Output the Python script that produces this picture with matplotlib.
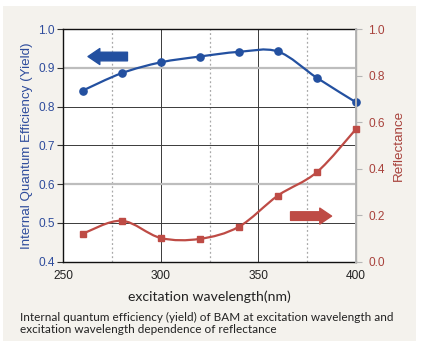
import numpy as np
import matplotlib
matplotlib.use("Agg")
import matplotlib.pyplot as plt
from matplotlib.path import Path
from matplotlib.patches import PathPatch, Rectangle

# -----------------------------
# data
# -----------------------------
wavelength = [260, 280, 300, 320, 340, 360, 380, 400]
yield_vals = [0.841, 0.886, 0.914, 0.929, 0.941, 0.942, 0.874, 0.811]
reflectance = [0.120, 0.176, 0.102, 0.098, 0.150, 0.284, 0.385, 0.570]

left_ticks = [0.4, 0.5, 0.6, 0.7, 0.8, 0.9, 1.0]
right_ticks = [0.0, 0.2, 0.4, 0.6, 0.8, 1.0]
x_ticks = [250, 300, 350, 400]
x_minor = [275, 325, 375]

BLUE = "#2350A0"
RED = "#BE4B45"
LBL_BLUE = "#2E4C9C"
LBL_RED = "#A8423C"
BG = "#F4F2ED"


def smooth_path(xs, ys):
    # catmull-rom through the points, handed to matplotlib as cubic beziers
    pts = np.column_stack([xs, ys]).astype(float)
    ext = np.vstack([pts[0], pts, pts[-1]])
    verts = [pts[0]]
    codes = [Path.MOVETO]
    for i in range(1, len(ext) - 2):
        p0, p1, p2, p3 = ext[i - 1], ext[i], ext[i + 1], ext[i + 2]
        verts += [p1 + (p2 - p0) / 6.0, p2 - (p3 - p1) / 6.0, p2]
        codes += [Path.CURVE4] * 3
    return Path(verts, codes)


fig = plt.figure(figsize=(4.22, 3.49), dpi=100)
fig.patch.set_facecolor("white")
fig.patches.append(Rectangle((3 / 422, 8 / 349), 413 / 422, 335 / 349,
                             transform=fig.transFigure, facecolor=BG,
                             edgecolor="none", zorder=-10))

ax = fig.add_axes([63 / 422, 1 - 261.7 / 349, 293 / 422, 232.7 / 349])
ax.set_facecolor("white")
ax2 = ax.twinx()

# grid
ax.set_xlim(250, 400)
ax.set_ylim(0.4, 1.0)
ax.set_xticks(x_ticks)
ax.set_xticks(x_minor, minor=True)
ax.set_yticks(left_ticks)
ax.grid(axis="y", color="#3A3A3A", linewidth=0.7)
for val, gl in zip(left_ticks, ax.get_ygridlines()):
    if round(val, 1) in (0.9, 0.6):
        gl.set_color("#BDBDBD")
        gl.set_linewidth(1.6)
ax.grid(axis="x", which="major", color="#3A3A3A", linewidth=0.7)
ax.grid(axis="x", which="minor", color="#A8A8A8", linewidth=0.9, linestyle=(0, (1.5, 2)))
ax.set_axisbelow(True)

# yield
ax.add_patch(PathPatch(smooth_path(wavelength, yield_vals), fill=False,
                       edgecolor=BLUE, linewidth=1.6, zorder=3))
ax.plot(wavelength, yield_vals, "o", color=BLUE, markersize=5.2, zorder=4, clip_on=False)

# reflectance
ax2.set_ylim(0.0, 1.0)
ax2.set_yticks(right_ticks)
ax2.add_patch(PathPatch(smooth_path(wavelength, reflectance), fill=False,
                        edgecolor=RED, linewidth=1.6, zorder=3))
ax2.plot(wavelength, reflectance, "s", color=RED, markersize=4.6, zorder=4, clip_on=False)

# direction arrows
arrow_style = "simple,head_length=0.85,head_width=1.15,tail_width=0.62"
ax.annotate("", xy=(262.8, 0.929), xytext=(283.0, 0.929),
            arrowprops=dict(arrowstyle=arrow_style, color=BLUE, shrinkA=0, shrinkB=0,
                            mutation_scale=10))
ax2.annotate("", xy=(387.5, 0.196), xytext=(366.5, 0.196),
             arrowprops=dict(arrowstyle=arrow_style, color=RED, shrinkA=0, shrinkB=0,
                             mutation_scale=10))

# spines / ticks
for sp in ("top", "bottom", "left"):
    ax.spines[sp].set_color("#111111")
    ax.spines[sp].set_linewidth(1.0)
ax2.spines["right"].set_color("#B5B5B5")
ax2.spines["right"].set_linewidth(1.4)
for sp in ("top", "bottom", "left"):
    ax2.spines[sp].set_visible(False)

tick_font = dict(family="Liberation Sans", size=8.6)
ax.set_yticklabels([f"{v:.1f}" for v in left_ticks], color=LBL_BLUE, **tick_font)
ax.set_xticklabels([str(v) for v in x_ticks], color="#222222", **tick_font)
ax2.set_yticklabels([f"{v:.1f}" for v in right_ticks], color=LBL_RED, **tick_font)
ax.tick_params(axis="y", direction="out", length=4, width=0.8, color="#333333", pad=2)
ax.tick_params(axis="x", which="major", direction="out", length=0, pad=6)
ax.tick_params(axis="x", which="minor", length=0)
ax2.tick_params(axis="y", direction="out", length=4, width=0.8, color="#B5B5B5", pad=5)

ax.set_ylabel("Internal Quantum Efficiency (Yield)", color=LBL_BLUE,
              family="Liberation Sans", fontsize=9.6, labelpad=4)
ax2.set_ylabel("Reflectance", color=LBL_RED, family="Liberation Sans",
               fontsize=9.6, labelpad=6)
ax.set_xlabel("excitation wavelength(nm)", color="#222222", family="Lato",
              fontsize=10.1, labelpad=6)

fig.text(20 / 422, 1 - 323.5 / 349,
         "Internal quantum efficiency (yield) of BAM at excitation wavelength and\n"
         "excitation wavelength dependence of reflectance",
         family="Lato", fontsize=8.5, color="#222222", va="center", ha="left",
         linespacing=1.2)

fig.savefig("out.png", dpi=100, facecolor=fig.get_facecolor())
